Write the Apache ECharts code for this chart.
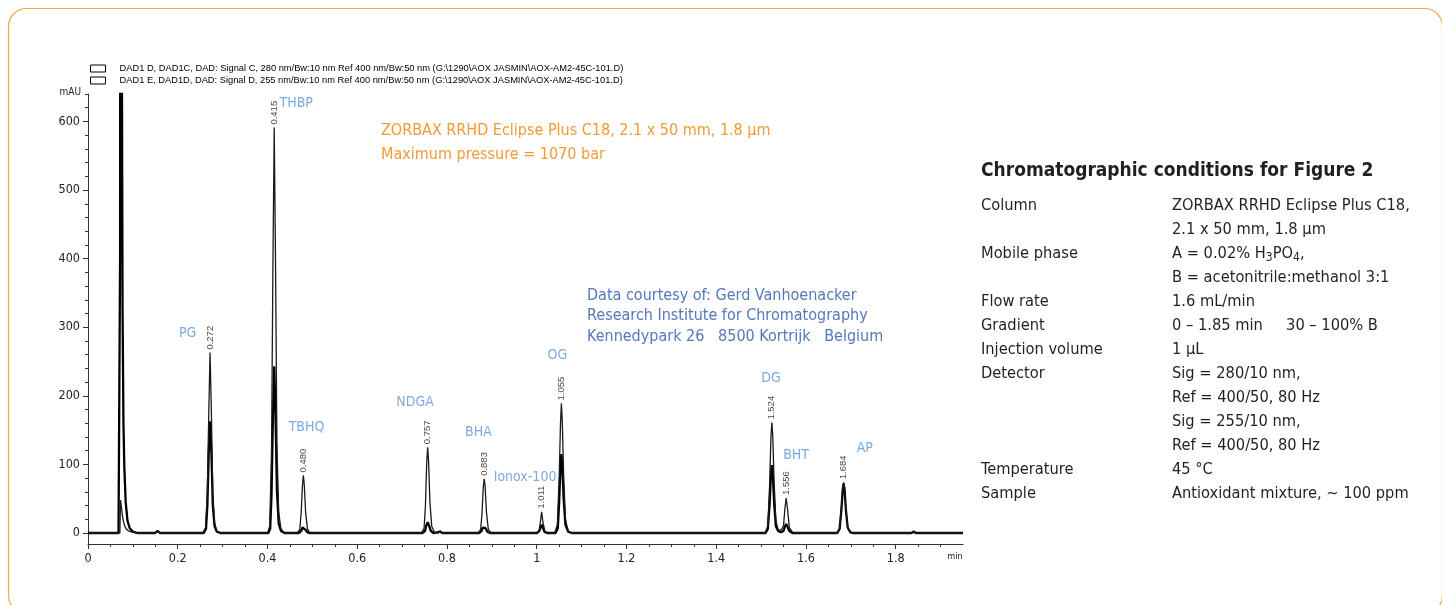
<!DOCTYPE html>
<html>
<head>
<meta charset="utf-8">
<script src="https://cdn.jsdelivr.net/npm/echarts@6/dist/echarts.min.js"></script>
<style>
html,body{margin:0;padding:0;background:#fff;}
#chart{width:1442px;height:605px;}
</style>
</head>
<body>
<div id="chart"></div>
<script>
// ---------- DATA ----------
const seriesNames = [
  'DAD1 D, DAD1C, DAD: Signal C, 280 nm/Bw:10 nm Ref 400 nm/Bw:50 nm (G:\\1290\\AOX JASMIN\\AOX-AM2-45C-101.D)',
  'DAD1 E, DAD1D, DAD: Signal D, 255 nm/Bw:10 nm Ref 400 nm/Bw:50 nm (G:\\1290\\AOX JASMIN\\AOX-AM2-45C-101.D)'
];
// Signal C (thin trace) [time min, mAU]
const signalC = [
  [0,0],[0.071,0],[0.0725,48],[0.0735,49],[0.075,35],[0.077,24],[0.080,14],[0.084,7],[0.090,3],[0.100,1],[0.110,0],
  [0.150,0],[0.155,3],[0.160,0],
  [0.256,0],[0.262,8],[0.266,60],[0.269,170],[0.272,263],[0.275,175],[0.278,60],[0.282,15],[0.287,3],[0.295,0],
  [0.400,0],[0.405,10],[0.409,120],[0.412,380],[0.415,591],[0.418,390],[0.421,130],[0.425,30],[0.430,6],[0.438,0],
  [0.466,0],[0.472,5],[0.475,30],[0.478,70],[0.480,84],[0.482,70],[0.485,30],[0.489,6],[0.495,0],
  [0.743,0],[0.749,7],[0.752,40],[0.755,105],[0.757,125],[0.759,105],[0.762,45],[0.766,10],[0.772,1],[0.780,0],[0.785,3],[0.790,0],
  [0.869,0],[0.875,5],[0.878,28],[0.881,68],[0.883,79],[0.885,68],[0.888,30],[0.892,6],[0.898,0],
  [0.999,0],[1.005,3],[1.008,15],[1.011,31],[1.014,15],[1.018,3],[1.024,0],
  [1.040,0],[1.046,12],[1.050,80],[1.053,160],[1.055,189],[1.057,162],[1.060,85],[1.064,20],[1.070,3],[1.078,0],
  [1.509,0],[1.515,10],[1.519,70],[1.522,140],[1.524,161],[1.526,142],[1.529,75],[1.533,18],[1.538,5],
  [1.544,4],[1.550,10],[1.553,35],[1.556,51],[1.559,35],[1.563,8],[1.570,1],[1.578,0],
  [1.669,0],[1.675,6],[1.679,35],[1.682,66],[1.684,74],[1.686,66],[1.689,35],[1.693,8],[1.699,1],[1.706,0],
  [1.835,0],[1.840,3],[1.845,0],[1.95,0]
];
// Signal D (thick trace) [time min, mAU]
const signalD = [
  [0,0],[0.068,0],[0.0705,2],[0.0715,400],[0.0725,1500],[0.0745,1500],[0.0755,700],[0.077,330],[0.079,160],[0.081,95],[0.084,45],[0.088,18],[0.093,7],[0.100,2],[0.110,0],
  [0.150,0],[0.155,3],[0.160,0],
  [0.258,0],[0.263,6],[0.266,40],[0.269,115],[0.272,163],[0.275,118],[0.278,42],[0.282,10],[0.287,2],[0.295,0],
  [0.402,0],[0.406,6],[0.409,55],[0.412,165],[0.415,243],[0.418,170],[0.421,62],[0.425,14],[0.430,3],[0.438,0],
  [0.470,0],[0.475,3],[0.478,8],[0.481,9],[0.484,5],[0.489,1],[0.495,0],
  [0.745,0],[0.751,3],[0.754,11],[0.757,16],[0.760,11],[0.764,3],[0.770,0],[0.785,2],[0.790,0],
  [0.872,0],[0.877,3],[0.880,8],[0.883,10],[0.886,7],[0.890,2],[0.896,0],
  [1.001,0],[1.006,3],[1.009,9],[1.011,12],[1.013,9],[1.017,2],[1.023,0],
  [1.042,0],[1.047,7],[1.050,45],[1.053,97],[1.055,115],[1.057,98],[1.060,50],[1.064,12],[1.070,2],[1.078,0],
  [1.510,0],[1.515,6],[1.519,42],[1.522,86],[1.524,99],[1.526,88],[1.529,45],[1.533,10],[1.538,3],
  [1.544,1],[1.550,3],[1.553,9],[1.556,13],[1.559,9],[1.563,3],[1.570,0],
  [1.670,0],[1.675,6],[1.679,34],[1.682,64],[1.684,72],[1.686,64],[1.689,34],[1.693,8],[1.699,1],[1.706,0],
  [1.835,0],[1.840,2],[1.845,0],[1.95,0]
];
// retention-time labels (apex time, apex height)
const rtTimes   = [0.272, 0.415, 0.480, 0.757, 0.883, 1.011, 1.055, 1.524, 1.556, 1.684];
const rtHeights = [263,   591,   84,    125,   79,    31,    189,   161,   51,    74];
// compound names and their label anchor (time, mAU)
const peakNames = ['PG','THBP','TBHQ','NDGA','BHA','Ionox-100','OG','DG','BHT','AP'];
const nameX     = [0.222, 0.464, 0.487, 0.729, 0.870, 0.974, 1.046, 1.522, 1.578, 1.731];
const nameY     = [291,   627,   154,   191,   147,   81,    259,   226,   113,   124];
// axis ticks
const xMajor = [0,0.2,0.4,0.6,0.8,1,1.2,1.4,1.6,1.8];
const xMinor = [0.05,0.1,0.15,0.25,0.3,0.35,0.45,0.5,0.55,0.65,0.7,0.75,0.85,0.9,0.95,1.05,1.1,1.15,1.25,1.3,1.35,1.45,1.5,1.55,1.65,1.7,1.75,1.85,1.9];
const yMajor = [0,100,200,300,400,500,600];
const yMinor = [20,40,60,80,120,140,160,180,220,240,260,280,320,340,360,380,420,440,460,480,520,540,560,580,620,640];
// conditions table
const condLabels = ['Column','','Mobile phase','','Flow rate','Gradient','Injection volume','Detector','','','','Temperature','Sample'];
const condValues = ['ZORBAX RRHD Eclipse Plus C18,','2.1 x 50 mm, 1.8 µm','A = 0.02% H{sub|3}PO{sub|4},','B = acetonitrile:methanol 3:1','1.6 mL/min','0 – 1.85 min     30 – 100% B','1 µL','Sig = 280/10 nm,','Ref = 400/50, 80 Hz','Sig = 255/10 nm,','Ref = 400/50, 80 Hz','45 °C','Antioxidant mixture, ~ 100 ppm'];

// ---------- CHART ----------
const NARROW = "'DejaVu Sans Condensed','Liberation Sans Narrow',sans-serif";
const chart = echarts.init(document.getElementById('chart'), null, {renderer:'canvas'});

const graphics = [
  {type:'rect', shape:{x:8.5,y:8.5,width:1434,height:605,r:18}, style:{fill:'none',stroke:'#f5a640',lineWidth:1.2}, silent:true},
  {type:'text', x:81, y:92, style:{text:'mAU', font:"10px "+NARROW, fill:'#222', align:'right', verticalAlign:'middle'}},
  {type:'text', x:955, y:557, style:{text:'min', font:"9px "+NARROW, fill:'#222', align:'center', verticalAlign:'middle'}},
  {type:'text', x:381, y:131, style:{text:'ZORBAX RRHD Eclipse Plus C18, 2.1 x 50 mm, 1.8 µm', font:"16px "+NARROW, fill:'#f39a35', verticalAlign:'middle'}},
  {type:'text', x:381, y:155, style:{text:'Maximum pressure = 1070 bar', font:"16px "+NARROW, fill:'#f39a35', verticalAlign:'middle'}},
  {type:'text', x:587, y:296, style:{text:'Data courtesy of: Gerd Vanhoenacker', font:"16px "+NARROW, fill:'#5577bb', verticalAlign:'middle'}},
  {type:'text', x:587, y:316, style:{text:'Research Institute for Chromatography', font:"16px "+NARROW, fill:'#5577bb', verticalAlign:'middle'}},
  {type:'text', x:587, y:337, style:{text:'Kennedypark 26   8500 Kortrijk   Belgium', font:"16px "+NARROW, fill:'#5577bb', verticalAlign:'middle'}},
  {type:'text', x:981, y:171, style:{text:'Chromatographic conditions for Figure 2', font:"bold 19px "+NARROW, fill:'#231f20', verticalAlign:'middle'}}
];
condLabels.forEach((t,i)=>{
  if (t) graphics.push({type:'text', x:981, y:206+24*i, style:{text:t, font:"16.3px "+NARROW, fill:'#231f20', verticalAlign:'middle'}});
});
condValues.forEach((t,i)=>{
  graphics.push({type:'text', x:1172, y:206+24*i, style:{text:t, font:"16.3px "+NARROW, fill:'#231f20', verticalAlign:'middle',
    rich:{sub:{fontSize:12, fontFamily:NARROW, fill:'#231f20', padding:[7,0,0,0]}}}});
});

const option = {
  animation:false,
  backgroundColor:'#fff',
  legend:{
    data:seriesNames, orient:'vertical', left:90, top:64, itemGap:3, padding:0,
    icon:'rect', itemWidth:15, itemHeight:7,
    itemStyle:{color:'#fff', borderColor:'#000', borderWidth:1},
    textStyle:{fontSize:9.3, fontFamily:'Liberation Sans', color:'#000', padding:[0,0,0,9]},
    selectedMode:false
  },
  grid:{left:88, right:479, top:94, bottom:61},
  xAxis:[
    {type:'value', min:0, max:1.95, position:'bottom',
     axisLine:{onZero:false, lineStyle:{color:'#333', width:1}},
     axisTick:{customValues:xMajor, length:5, lineStyle:{color:'#333'}},
     axisLabel:{customValues:xMajor, fontSize:12.5, fontFamily:NARROW, color:'#222', margin:8},
     splitLine:{show:false}},
    {type:'value', min:0, max:1.95, position:'bottom',
     axisLine:{show:false, onZero:false},
     axisTick:{customValues:xMinor, length:3, lineStyle:{color:'#333'}},
     axisLabel:{show:false}, splitLine:{show:false}}
  ],
  yAxis:[
    {type:'value', min:-16, max:640, position:'left',
     axisLine:{show:true, onZero:false, lineStyle:{color:'#333', width:1}},
     axisTick:{show:true, customValues:yMajor, length:5, lineStyle:{color:'#333'}},
     axisLabel:{customValues:yMajor, fontSize:12.5, fontFamily:NARROW, color:'#222', margin:8},
     splitLine:{show:false}},
    {type:'value', min:-16, max:640, position:'left',
     axisLine:{show:false, onZero:false},
     axisTick:{show:true, customValues:yMinor, length:3, lineStyle:{color:'#333'}},
     axisLabel:{show:false}, splitLine:{show:false}}
  ],
  series:[
    {name:seriesNames[0], type:'line', data:signalC, showSymbol:false, symbol:'none',
     lineStyle:{color:'#1a1a1a', width:1.3}, itemStyle:{color:'#000'}, z:3, clip:true},
    {name:seriesNames[1], type:'line', data:signalD, showSymbol:false, symbol:'none',
     lineStyle:{color:'#000', width:2.3}, itemStyle:{color:'#000'}, z:2, clip:true},
    {type:'scatter', symbolSize:0, silent:true, z:5,
     data:rtTimes.map((t,i)=>[t, rtHeights[i]]),
     label:{show:true, position:'top', rotate:90, align:'left', verticalAlign:'middle', distance:3,
       formatter:p=>p.value[0].toFixed(3), fontSize:9.5, fontFamily:'Liberation Sans', color:'#111'}},
    {type:'scatter', symbolSize:0, silent:true, z:5,
     data:peakNames.map((n,i)=>({name:n, value:[nameX[i], nameY[i]]})),
     label:{show:true, position:'inside', formatter:'{b}', fontSize:14, fontFamily:NARROW, color:'#5b95d5'}}
  ],
  graphic:graphics
};
chart.setOption(option);
</script>
</body>
</html>
